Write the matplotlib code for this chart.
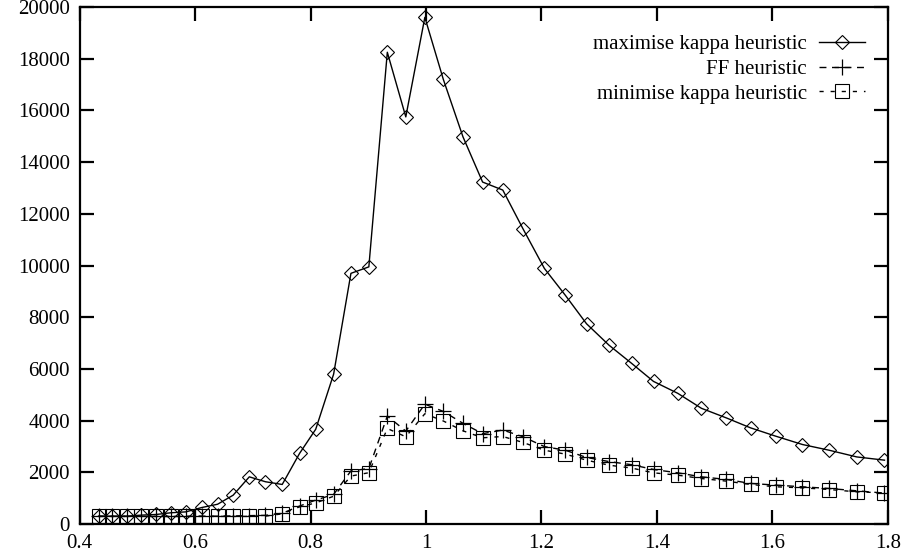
import matplotlib
matplotlib.use("Agg")
import matplotlib.pyplot as plt
from matplotlib.ticker import FuncFormatter, MultipleLocator

plt.rcParams['font.family'] = ['Liberation Serif', 'DejaVu Serif']
plt.rcParams['lines.scale_dashes'] = False

# ratio values (x axis)
x = [0.433, 0.457, 0.482, 0.507, 0.533, 0.558, 0.584, 0.612, 0.639, 0.666,
     0.694, 0.722, 0.751, 0.781, 0.809, 0.840, 0.870, 0.901, 0.933, 0.965,
     0.998, 1.030, 1.064, 1.098, 1.133, 1.168, 1.205, 1.241, 1.278, 1.317,
     1.356, 1.394, 1.436, 1.477, 1.520, 1.562, 1.606, 1.652, 1.698, 1.746, 1.794]

max_kappa = [310, 310, 310, 350, 375, 440, 475, 645, 770, 1120,
             1830, 1640, 1535, 2735, 3670, 5800, 9700, 9950, 18250, 15750,
             19600, 17200, 14980, 13230, 12920, 11420, 9890, 8860, 7750, 6920,
             6220, 5520, 5060, 4480, 4110, 3725, 3400, 3080, 2860, 2600, 2475]

ff = [300, 300, 300, 300, 300, 300, 300, 310, 310, 320,
      330, 340, 420, 700, 930, 1150, 2060, 2150, 4180, 3600,
      4640, 4360, 3900, 3500, 3640, 3380, 3000, 2860, 2580, 2420,
      2300, 2115, 1985, 1830, 1730, 1575, 1510, 1445, 1380, 1290, 1200]

min_kappa = [300, 300, 300, 300, 300, 300, 300, 300, 300, 300,
             300, 310, 400, 670, 820, 1080, 1860, 1990, 3700, 3380,
             4270, 3990, 3610, 3340, 3390, 3160, 2860, 2710, 2475, 2280,
             2170, 1985, 1895, 1765, 1665, 1535, 1445, 1405, 1340, 1250, 1210]

labels = ["maximise kappa heuristic", "FF heuristic", "minimise kappa heuristic"]

fig = plt.figure(figsize=(9.07, 5.6), dpi=100)
ax = fig.add_axes([0.0877, 0.064, 0.8913, 0.9235])

ax.plot(x, max_kappa, color='black', lw=1.0, linestyle='-', marker='D',
        ms=7.6, mfc='none', mec='black', mew=0.8, label=labels[0])
ax.plot(x, ff, color='black', lw=1.0, linestyle=(0, (5, 4)), marker='+',
        ms=11, mec='black', mew=0.9, label=labels[1])
ax.plot(x, min_kappa, color='black', lw=1.0, linestyle=(0, (3, 5)), marker='s',
        ms=10, mfc='none', mec='black', mew=0.8, label=labels[2])

ax.set_xlim(0.4, 1.8)
ax.set_ylim(0, 20000)
ax.xaxis.set_major_locator(MultipleLocator(0.2))
ax.yaxis.set_major_locator(MultipleLocator(2000))
ax.xaxis.set_major_formatter(FuncFormatter(lambda v, p: "%g" % round(v, 4)))
ax.yaxis.set_major_formatter(FuncFormatter(lambda v, p: "%d" % round(v)))

for s in ax.spines.values():
    s.set_linewidth(1.6)
ax.tick_params(direction='in', length=10, width=1.6, top=True, right=True,
               labelsize=15, pad=7, colors='black')

leg = ax.legend(loc='upper right', bbox_to_anchor=(0.99, 0.975), frameon=False,
                markerfirst=False, fontsize=15, handlelength=2.2,
                handletextpad=0.6, labelspacing=0.25, borderaxespad=0.3,
                numpoints=1)

fig.savefig("out.png", dpi=100)
